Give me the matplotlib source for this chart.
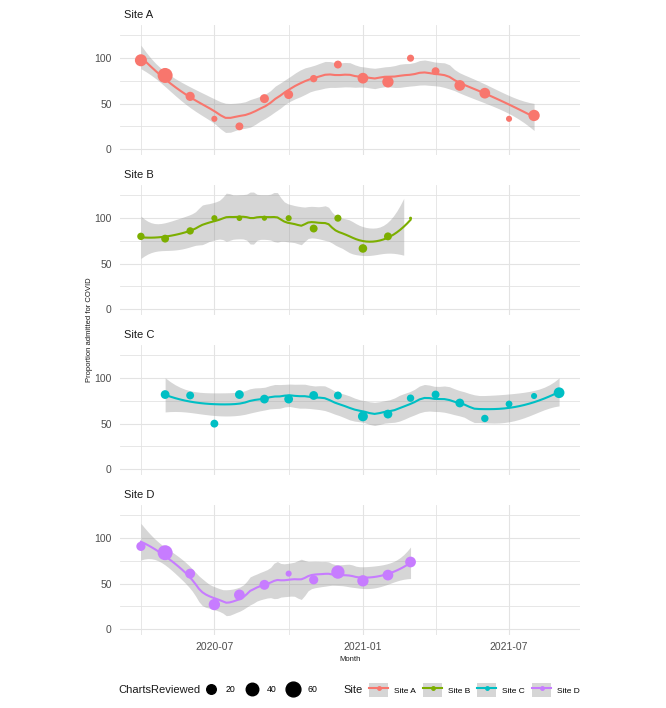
import math
import numpy as np
import pandas as pd
import matplotlib
matplotlib.use("Agg")
import matplotlib.pyplot as plt
import matplotlib.dates as mdates
from matplotlib import font_manager
from matplotlib.lines import Line2D
from matplotlib.patches import Rectangle
from matplotlib.legend_handler import HandlerTuple

# monthly review dates
months = ["2020-04-01", "2020-05-01", "2020-06-01", "2020-07-01", "2020-08-01",
          "2020-09-01", "2020-10-01", "2020-11-01", "2020-12-01", "2021-01-01",
          "2021-02-01", "2021-03-01", "2021-04-01", "2021-05-01", "2021-06-01",
          "2021-07-01", "2021-08-01", "2021-09-01"]

sites = ["Site A", "Site B", "Site C", "Site D"]
colors = ["#F8766D", "#7CAE00", "#00BFC4", "#C77CFF"]

# proportion admitted for COVID (%) and charts reviewed, per site
a_months = months[0:17]
a_pct = [97.7, 81, 58, 33.3, 25, 55.5, 60, 77.5, 93, 78, 74, 100, 85.7, 70, 61.5, 33.3, 37]
a_n = [36, 62, 18, 6, 12, 17, 17, 10, 12, 27, 31, 9, 12, 27, 27, 6, 31]

b_months = months[0:12]
b_pct = [80, 77.5, 86, 100, 100, 100, 100, 88.6, 100, 66.7, 80, 100]
b_n = [10, 12, 10, 6, 5, 4, 6, 12, 9, 15, 12, 2]

c_months = months[1:18]
c_pct = [82, 81, 50, 82, 77, 77, 81, 81, 58, 60.5, 78, 82, 72.7, 55.7, 71.6, 80.4, 84]
c_n = [16, 12, 12, 16, 16, 16, 16, 12, 22, 16, 10, 12, 16, 10, 8, 6, 27]

d_months = months[0:12]
d_pct = [91, 84, 61, 27, 37.6, 48.7, 61, 54.2, 62.7, 53.1, 59.4, 73.8]
d_n = [18, 62, 22, 31, 27, 22, 6, 18, 46, 31, 27, 27]

legend_sizes = [20, 40, 60]

SPAN = 0.5
YMAX = 130

# font: narrow sans if available
names = {f.name for f in font_manager.fontManager.ttflist}
fam = "Liberation Sans Narrow" if "Liberation Sans Narrow" in names else "Liberation Sans"
plt.rcParams["font.family"] = [fam, "DejaVu Sans"]


def t_ppf(p, df):
    g = np.linspace(0, 60, 600001)
    c = math.exp(math.lgamma((df + 1) / 2) - math.lgamma(df / 2)) / math.sqrt(df * math.pi)
    pdf = c * (1 + g ** 2 / df) ** (-(df + 1) / 2)
    cdf = 0.5 + np.concatenate([[0], np.cumsum((pdf[1:] + pdf[:-1]) / 2 * np.diff(g))])
    return float(np.interp(p, cdf, g))


def loess(x, y, xs, span=0.75, wts=None, degree=2):
    # weighted local quadratic fit with tricube kernel + 95% band (like geom_smooth)
    x = np.asarray(x, float)
    y = np.asarray(y, float)
    n = len(x)
    pw = np.ones(n) if wts is None else np.asarray(wts, float)
    x0m, sc = x.mean(), x.std()
    x = (x - x0m) / sc
    xs = (np.asarray(xs, float) - x0m) / sc
    q = max(int(np.floor(n * span)), degree + 2)

    def row(x0):
        d = np.abs(x - x0)
        h = np.sort(d)[q - 1] * 1.0001
        w = np.clip(1 - (d / h) ** 3, 0, None) ** 3 * pw
        X = np.vander(x - x0, degree + 1, increasing=True)
        A = X.T @ (w[:, None] * X)
        return np.linalg.solve(A, (X * w[:, None]).T)[0]

    L = np.array([row(v) for v in x])
    Ls = np.array([row(v) for v in xs])
    fit = Ls @ y
    sw = np.sqrt(pw)
    R = np.eye(n) - sw[:, None] * L / sw[None, :]
    M = R.T @ R
    d1, d2 = np.trace(M), np.trace(M @ M)
    sigma = math.sqrt(np.sum(pw * (y - L @ y) ** 2) / d1)
    se = sigma * np.sqrt(np.sum(Ls ** 2 / pw[None, :], axis=1))
    t = t_ppf(0.975, d1 ** 2 / d2)
    return fit, fit - t * se, fit + t * se


def diam(n):
    # point diameter in points (area scale)
    px = 3 + 12 * np.sqrt((np.asarray(n, float) - 2) / 60)
    return px * 0.72


data = [(a_months, a_pct, a_n), (b_months, b_pct, b_n),
        (c_months, c_pct, c_n), (d_months, d_pct, d_n)]

fig, axes = plt.subplots(4, 1, figsize=(6.66, 7.08), dpi=100, sharex=True)
fig.subplots_adjust(left=120 / 666, right=580 / 666, top=1 - 25 / 708,
                    bottom=1 - 635 / 708, hspace=30 / 130)

all_dates = mdates.date2num(pd.to_datetime(months))
lo_x, hi_x = all_dates.min(), all_dates.max()
pad = (hi_x - lo_x) * 0.05

for ax, site, col, (mo, pct, n) in zip(axes, sites, colors, data):
    xd = mdates.date2num(pd.to_datetime(mo))
    xs = np.linspace(xd.min(), xd.max(), 80)
    fit, lo, hi = loess(xd, pct, xs, SPAN, n)
    # out-of-limit ribbon rows are dropped, as ggplot does
    ok = (hi <= YMAX) & (lo >= 0)
    ax.fill_between(xs, lo, hi, where=ok, color="#999999", alpha=0.4,
                    linewidth=0, zorder=2)
    ax.plot(xs, np.where(fit <= YMAX, fit, np.nan), color=col, lw=1.5, zorder=3)
    ax.scatter(xd, pct, s=diam(n) ** 2, color=col, linewidths=0, zorder=4)

    ax.set_xlim(lo_x - pad, hi_x + pad)
    ax.set_ylim(-0.05 * YMAX, 1.05 * YMAX)
    ax.set_yticks([0, 50, 100])
    ax.set_yticks([25, 75, 125], minor=True)
    for s in ax.spines.values():
        s.set_visible(False)
    ax.grid(True, which="major", color="#E3E3E3", lw=0.8)
    ax.grid(True, which="minor", color="#E3E3E3", lw=0.6)
    ax.set_axisbelow(True)
    ax.tick_params(which="both", length=0, labelsize=7.5, labelcolor="#4D4D4D", pad=6)
    ax.text(0.008, 1.04, site, transform=ax.transAxes, fontsize=8, color="#1A1A1A",
            ha="left", va="bottom")

ax = axes[-1]
ax.xaxis.set_major_locator(matplotlib.ticker.FixedLocator(
    mdates.date2num(pd.to_datetime(["2020-07-01", "2021-01-01", "2021-07-01"]))))
ax.xaxis.set_minor_locator(matplotlib.ticker.FixedLocator(
    mdates.date2num(pd.to_datetime(["2020-04-01", "2020-10-01", "2021-04-01"]))))
ax.xaxis.set_major_formatter(mdates.DateFormatter("%Y-%m"))
ax.tick_params(axis="x", pad=5)
ax.set_xlabel("Month", fontsize=5.5, color="#1A1A1A", labelpad=3)

fig.text(89 / 666, 1 - 330 / 708, "Proportion admitted for COVID", rotation=90,
         fontsize=5.5, color="#1A1A1A", ha="center", va="center")

# legends
ly = 1 - 690 / 708
fig.text(118 / 666, ly, "ChartsReviewed", fontsize=8, color="#1A1A1A",
         ha="left", va="center")
size_handles = [Line2D([], [], ls="", marker="o", color="black", ms=diam(v))
                for v in legend_sizes]
fig.legend(size_handles, [str(v) for v in legend_sizes], ncol=3, frameon=False,
           loc="center left", bbox_to_anchor=(197 / 666, ly), fontsize=6.3,
           handlelength=2.2, handletextpad=0.6, columnspacing=0.75, borderpad=0)

fig.text(343 / 666, ly, "Site", fontsize=8, color="#1A1A1A", ha="left", va="center")
site_handles = [(Rectangle((0, 0), 1, 1, facecolor="#D6D6D6", edgecolor="none"),
                 Line2D([], [], color=c, lw=1.5, marker="o", ms=2.5))
                for c in colors]
fig.legend(site_handles, sites, ncol=4, frameon=False, loc="center left",
           bbox_to_anchor=(365 / 666, ly), fontsize=6,
           handler_map={tuple: HandlerTuple(ndivide=1)},
           handlelength=2.3, handleheight=2.3, handletextpad=0.65,
           columnspacing=0.88, borderpad=0)

fig.savefig("out.png", dpi=100)
